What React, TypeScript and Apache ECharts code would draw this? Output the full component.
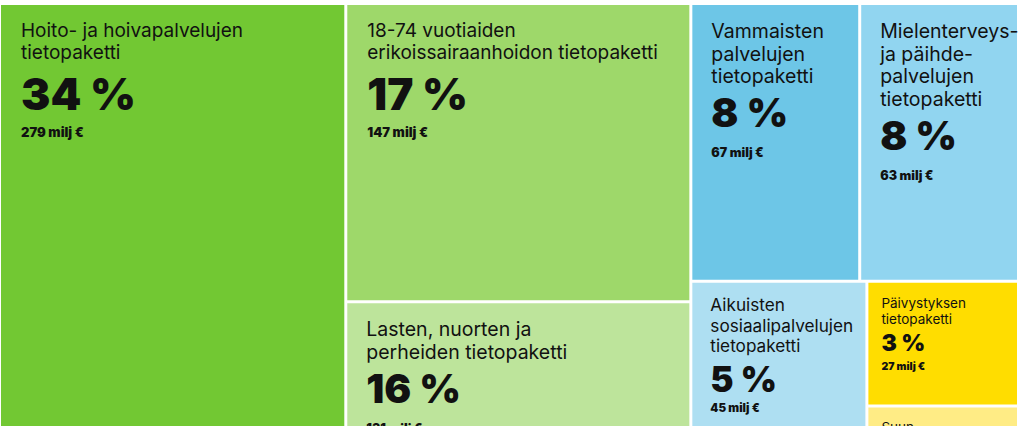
import React, { useEffect, useRef } from "react";
import * as echarts from "echarts";

// Tietopaketit (names as wrapped in the picture), costs in milj €, shares in %
const names = [
  "Hoito- ja hoivapalvelujen\ntietopaketti",
  "18-74 vuotiaiden\nerikoissairaanhoidon tietopaketti",
  "Lasten, nuorten ja\nperheiden tietopaketti",
  "Vammaisten\npalvelujen\ntietopaketti",
  "Mielenterveys-\nja päihde-\npalvelujen\ntietopaketti",
  "Aikuisten\nsosiaalipalvelujen\ntietopaketti",
  "Perusterveydenhuollon\navosairaanhoidon\ntietopaketti",
  "Päivystyksen\ntietopaketti",
  "Suun\nterveydenhuollon\ntietopaketti",
];
const amounts = [279, 147, 131, 67, 63, 45, 27, 27, 35];
const percents = [34, 17, 16, 8, 8, 5, 3, 3, 4];

const colors = [
  "#72C833",
  "#9ED86A",
  "#BDE49B",
  "#6DC6E7",
  "#91D5F0",
  "#AEDFF2",
  "#FFF0A0",
  "#FFDD00",
  "#FFEC85",
];

const FONT = "Inter, 'Noto Sans', sans-serif";
const INK = "#111111";

type Tier = {
  pad: number[];
  nSize: number;
  nLine: number;
  pSize: number;
  pLine: number;
  aSize: number;
  aLine: number;
};

function tierFor(v: number): Tier {
  if (v >= 140)
    return { pad: [14, 4, 4, 20], nSize: 19, nLine: 22, pSize: 44, pLine: 62, aSize: 13, aLine: 14 };
  if (v >= 60)
    return { pad: [15, 4, 4, 19], nSize: 19.5, nLine: 22.5, pSize: 40, pLine: 50, aSize: 12.5, aLine: 30 };
  if (v >= 40)
    return { pad: [12, 4, 4, 18], nSize: 17.2, nLine: 20.5, pSize: 35, pLine: 46, aSize: 11.5, aLine: 12 };
  return { pad: [12, 4, 4, 13], nSize: 13.5, nLine: 16, pSize: 23, pLine: 32, aSize: 10.5, aLine: 16 };
}

export default function App() {
  const ref = useRef<HTMLDivElement>(null);

  useEffect(() => {
    if (!ref.current) return;
    const chart = echarts.init(ref.current, null, { renderer: "svg" });

    const data = names.map((n, i) => {
      const t = tierFor(amounts[i]);
      return {
        name: n,
        value: amounts[i],
        itemStyle: { color: colors[i] },
        label: {
          padding: t.pad,
          formatter: `{n|${n}}\n{p|${percents[i]} %}\n{a|${amounts[i]} milj €}`,
          rich: {
            n: { fontFamily: FONT, fontSize: t.nSize, lineHeight: t.nLine, color: INK, fontWeight: 400 },
            p: { fontFamily: FONT, fontSize: t.pSize, lineHeight: t.pLine, color: INK, fontWeight: 900 },
            a: { fontFamily: FONT, fontSize: t.aSize, lineHeight: t.aLine, color: INK, fontWeight: 900 },
          },
        },
      };
    });

    chart.setOption({
      animation: false,
      series: [
        {
          type: "treemap",
          left: 1,
          top: 5,
          width: 1016,
          height: 561,
          squareRatio: 1,
          sort: false,
          roam: false,
          nodeClick: false,
          breadcrumb: { show: false },
          itemStyle: { borderWidth: 0, gapWidth: 3, borderColor: "#ffffff" },
          label: {
            show: true,
            position: "insideTopLeft",
            distance: 0,
            overflow: "none",
            color: INK,
          },
          upperLabel: { show: false },
          data,
        },
      ],
    });

    return () => chart.dispose();
  }, []);

  return (
    <div
      style={{
        position: "fixed",
        left: 0,
        top: 0,
        width: 1024,
        height: 426,
        overflow: "hidden",
        background: "#ffffff",
      }}
    >
      <div ref={ref} style={{ width: 1024, height: 575 }} />
    </div>
  );
}
